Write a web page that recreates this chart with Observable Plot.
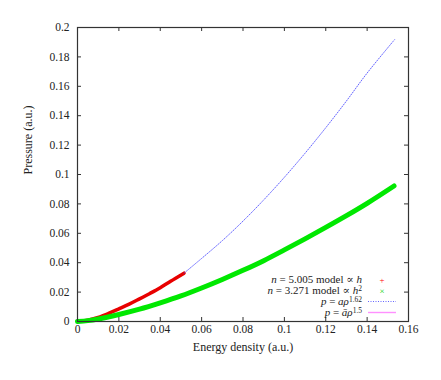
<!DOCTYPE html>
<html>
<head>
<meta charset="utf-8">
<script src="https://cdn.jsdelivr.net/npm/d3@7"></script>
<script src="https://cdn.jsdelivr.net/npm/@observablehq/plot@0.6"></script>
<style>
  html, body { margin: 0; padding: 0; background: #fff; }
  svg, svg text { font-family: 'Liberation Serif', 'DejaVu Serif', serif !important; }
</style>
</head>
<body>
<div id="chart"></div>
<script>
// ---- data ----
const xTicks = [0, 0.02, 0.04, 0.06, 0.08, 0.1, 0.12, 0.14, 0.16];
const yTicks = [0, 0.02, 0.04, 0.06, 0.08, 0.1, 0.12, 0.14, 0.16, 0.18, 0.2];

// n = 5.005 model (red)
const redRho = [0, 0.005, 0.01, 0.015, 0.02, 0.025, 0.03, 0.035, 0.04, 0.045, 0.0515];
const redP   = [0, 0.0009, 0.0028, 0.0055, 0.0086, 0.0118, 0.0154, 0.0191, 0.0230, 0.0274, 0.0329];

// n = 3.271 model (green)
const greenRho = [0, 0.005, 0.01, 0.02, 0.03, 0.04, 0.05, 0.06, 0.07, 0.08, 0.09, 0.10, 0.11, 0.12, 0.13, 0.14, 0.153];
const greenP   = [0, 0.0006, 0.0017, 0.0048, 0.0084, 0.0127, 0.0174, 0.0228, 0.0286, 0.0348, 0.0414, 0.0487, 0.0562, 0.0640, 0.0720, 0.0804, 0.0922];

// p = a rho^1.62 (blue dotted, visible part)
const blueRho = [0.0515, 0.06, 0.07, 0.08, 0.09, 0.10, 0.11, 0.12, 0.13, 0.14, 0.1533];
const blueP   = [0.0329, 0.0429, 0.0550, 0.0683, 0.0827, 0.0981, 0.1145, 0.1318, 0.1500, 0.1690, 0.1918];

const toRows = (xs, ys) => xs.map((x, i) => ({x, y: ys[i]}));
const red = toRows(redRho, redP);
const green = toRows(greenRho, greenP);
const blue = toRows(blueRho, blueP);

const W = 441, H = 380;
const mT = 27, mR = 33, mB = 59, mL = 77;
const fw = W - mL - mR, fh = H - mT - mB;
const tick = 4;
const axisColor = "#333";
const FONT = "'Liberation Serif', 'DejaVu Serif', serif";

const plot = Plot.plot({
  width: W, height: H,
  marginTop: mT, marginRight: mR, marginBottom: mB, marginLeft: mL,
  style: {fontFamily: FONT, fontSize: "11.5px", background: "#fff", color: "#222"},
  x: {domain: [0, 0.16]},
  y: {domain: [0, 0.2]},
  marks: [
    Plot.line(red, {x: "x", y: "y", stroke: "#e80000", strokeWidth: 3.5, curve: "catmull-rom"}),
    Plot.line(green, {x: "x", y: "y", stroke: "#00e800", strokeWidth: 5, curve: "catmull-rom"}),
    Plot.line(blue, {x: "x", y: "y", stroke: "#4040ff", strokeWidth: 1, strokeDasharray: "1,1.5", strokeOpacity: 0.8, curve: "catmull-rom"}),
    // inward ticks on all four sides
    Plot.ruleX(xTicks, {x: d => d, insetTop: fh - tick, stroke: axisColor}),
    Plot.ruleX(xTicks, {x: d => d, insetBottom: fh - tick, stroke: axisColor}),
    Plot.ruleY(yTicks, {y: d => d, insetRight: fw - tick, stroke: axisColor}),
    Plot.ruleY(yTicks, {y: d => d, insetLeft: fw - tick, stroke: axisColor}),
    Plot.frame({stroke: axisColor, strokeWidth: 1.2}),
    Plot.axisX({ticks: xTicks, tickSize: 0, tickPadding: 3, tickFormat: d => String(d), label: null}),
    Plot.axisY({ticks: yTicks, tickSize: 0, tickPadding: 8, tickFormat: d => String(d), label: null}),
    Plot.text(["Energy density (a.u.)"], {text: d => d, frameAnchor: "bottom", dy: 26, lineAnchor: "middle", fontSize: 12}),
    Plot.text(["Pressure (a.u.)"], {text: d => d, frameAnchor: "left", dx: -49, rotate: -90, fontSize: 12})
  ]
});
document.getElementById("chart").appendChild(plot);

// ---- legend (inside plot, lower right) ----
const svg = d3.select(plot);
const g = svg.append("g")
  .attr("font-family", FONT)
  .attr("font-size", 11)
  .attr("fill", "#222");
const textRight = mL + fw - 46;
const rowY0 = mT + fh - 41.5, rowGap = 11;
const sampleX1 = textRight + 6, sampleX2 = textRight + 34;

function addLabel(i, parts) {
  const t = g.append("text")
    .attr("x", textRight).attr("y", rowY0 + i * rowGap + 3.6)
    .attr("text-anchor", "end");
  parts.forEach(p => {
    const s = t.append("tspan").text(p.t);
    if (p.i) s.attr("font-style", "italic");
    if (p.sup) s.attr("font-size", 7.5).attr("dy", -3.5);
  });
}
addLabel(0, [{t: "n", i: true}, {t: " = 5.005 model ∝ "}, {t: "h", i: true}]);
addLabel(1, [{t: "n", i: true}, {t: " = 3.271 model ∝ "}, {t: "h", i: true}, {t: "2", sup: true}]);
addLabel(2, [{t: "p", i: true}, {t: " = "}, {t: "aρ", i: true}, {t: "1.62", sup: true}]);
addLabel(3, [{t: "p", i: true}, {t: " = "}, {t: "āρ", i: true}, {t: "1.5", sup: true}]);

const cx = (sampleX1 + sampleX2) / 2;
g.append("text").attr("x", cx).attr("y", rowY0 + 3).attr("text-anchor", "middle")
  .attr("fill", "#ff0000").attr("font-size", 9).text("+");
g.append("text").attr("x", cx).attr("y", rowY0 + rowGap + 3).attr("text-anchor", "middle")
  .attr("fill", "#00d000").attr("font-size", 9).text("×");
g.append("line").attr("x1", sampleX1).attr("x2", sampleX2)
  .attr("y1", rowY0 + 2 * rowGap).attr("y2", rowY0 + 2 * rowGap)
  .attr("stroke", "#4040ff").attr("stroke-opacity", 0.8).attr("stroke-dasharray", "1,1.5");
g.append("line").attr("x1", sampleX1).attr("x2", sampleX2)
  .attr("y1", rowY0 + 3 * rowGap).attr("y2", rowY0 + 3 * rowGap)
  .attr("stroke", "#ff90ff").attr("stroke-width", 1.4);
</script>
</body>
</html>
